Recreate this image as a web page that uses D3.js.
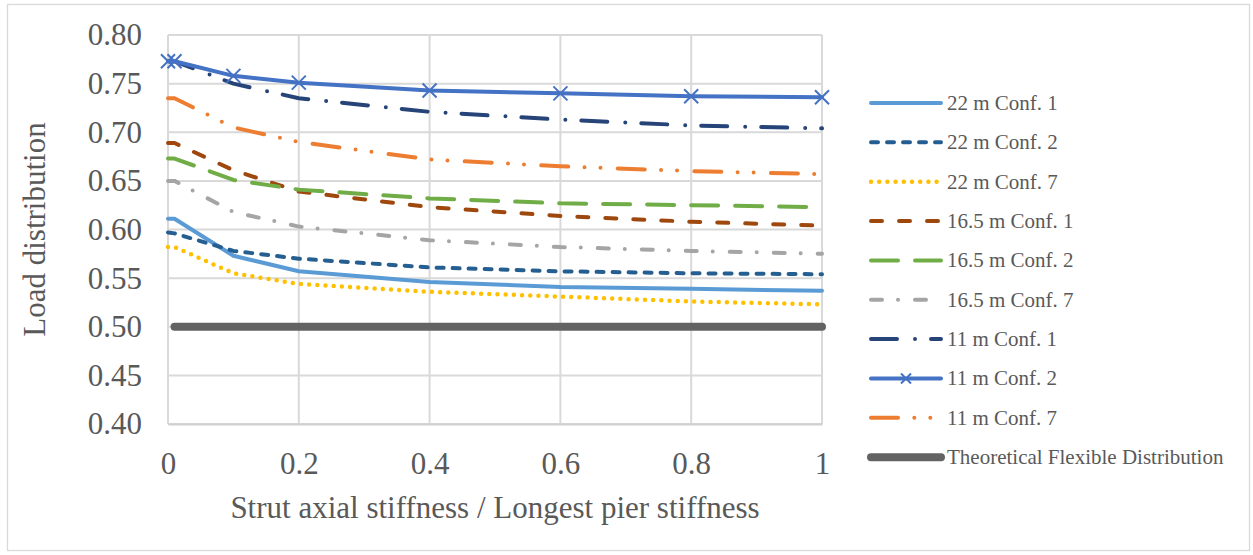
<!DOCTYPE html>
<html>
<head>
<meta charset="utf-8">
<script src="https://cdn.jsdelivr.net/npm/d3@7"></script>
<style>
  html, body { margin: 0; padding: 0; background: #ffffff; }
  svg { display: block; }
  text { font-family: "Liberation Serif", "Times New Roman", serif; }
</style>
</head>
<body>
<svg id="chart" width="1253" height="555"></svg>
<script>
// ---- Data ----
const xValues = [0, 0.01, 0.1, 0.2, 0.4, 0.6, 0.8, 1];
const xTicks = [0, 0.2, 0.4, 0.6, 0.8, 1];
const yTicks = [0.40, 0.45, 0.50, 0.55, 0.60, 0.65, 0.70, 0.75, 0.80];

const seriesNames = [
  "22 m Conf. 1", "22 m Conf. 2", "22 m Conf. 7",
  "16.5 m Conf. 1", "16.5 m Conf. 2", "16.5 m Conf. 7",
  "11 m Conf. 1", "11 m Conf. 2", "11 m Conf. 7",
  "Theoretical Flexible Distribution"
];

const v22c1 = [0.611, 0.611, 0.573, 0.557, 0.546, 0.541, 0.539, 0.537];
const v22c2 = [0.597, 0.596, 0.578, 0.570, 0.561, 0.557, 0.555, 0.554];
const v22c7 = [0.582, 0.582, 0.555, 0.544, 0.536, 0.531, 0.526, 0.523];
const v165c1 = [0.689, 0.689, 0.661, 0.639, 0.623, 0.614, 0.608, 0.604];
const v165c2 = [0.673, 0.673, 0.651, 0.641, 0.632, 0.627, 0.625, 0.623];
const v165c7 = [0.650, 0.650, 0.618, 0.603, 0.589, 0.582, 0.578, 0.575];
const v11c1 = [0.773, 0.773, 0.750, 0.735, 0.721, 0.713, 0.707, 0.704];
const v11c2 = [0.773, 0.773, 0.758, 0.751, 0.743, 0.740, 0.737, 0.736];
const v11c7 = [0.735, 0.735, 0.705, 0.690, 0.672, 0.665, 0.660, 0.657];
const vTheory = [null, 0.5, 0.5, 0.5, 0.5, 0.5, 0.5, 0.5];

const seriesValues = [v22c1, v22c2, v22c7, v165c1, v165c2, v165c7, v11c1, v11c2, v11c7, vTheory];

// ---- Styles ----
const styles = [
  { color: "#5B9BD5", width: 4, dash: null },
  { color: "#255E91", width: 4, dash: "7,9" },
  { color: "#FFC000", width: 4.5, dash: "0,8.2" },
  { color: "#9E480E", width: 4, dash: "11,17" },
  { color: "#70AD47", width: 4, dash: "27,17" },
  { color: "#A5A5A5", width: 4, dash: "11,16,0,17" },
  { color: "#264478", width: 4, dash: "26,18,0,16" },
  { color: "#4472C4", width: 4, dash: null, marker: true },
  { color: "#ED7D31", width: 4, dash: "27,16.3,0,16,0,17.3" },
  { color: "#636363", width: 8, dash: null }
];

const svg = d3.select("#chart");
const W = 1253, H = 555;

// outer border
svg.append("rect")
  .attr("x", 7.5).attr("y", 4.5)
  .attr("width", 1242).attr("height", 546)
  .attr("fill", "#ffffff").attr("stroke", "#d9d9d9").attr("stroke-width", 1.3);

const x = d3.scaleLinear().domain([0, 1]).range([168, 822]);
const y = d3.scaleLinear().domain([0.4, 0.8]).range([424, 35]);

// gridlines
const grid = svg.append("g");
grid.selectAll("line.h").data(yTicks).join("line")
  .attr("x1", x(0)).attr("x2", x(1))
  .attr("y1", d => y(d)).attr("y2", d => y(d))
  .attr("stroke", "#d9d9d9").attr("stroke-width", 2);
grid.selectAll("line.v").data(xTicks).join("line")
  .attr("x1", d => x(d)).attr("x2", d => x(d))
  .attr("y1", y(0.8)).attr("y2", y(0.4))
  .attr("stroke", "#d9d9d9").attr("stroke-width", 2);

// axes
const yAxis = d3.axisLeft(y).tickValues(yTicks).tickFormat(d3.format(".2f")).tickSize(0).tickPadding(26);
const gy = svg.append("g").attr("transform", `translate(${x(0)},0)`).call(yAxis);
gy.select(".domain").remove();
gy.selectAll("text").attr("font-size", 31).attr("fill", "#595959")
  .attr("font-family", "Liberation Serif, Times New Roman, serif");

const xAxis = d3.axisBottom(x).tickValues(xTicks).tickFormat(d3.format("~g")).tickSize(0).tickPadding(28);
const gx = svg.append("g").attr("transform", `translate(0,${y(0.4)})`).call(xAxis);
gx.select(".domain").attr("stroke", "#d0d0d0").attr("stroke-width", 2);
gx.selectAll("text").attr("font-size", 31).attr("fill", "#595959")
  .attr("font-family", "Liberation Serif, Times New Roman, serif");

// axis titles
svg.append("text")
  .attr("x", (x(0) + x(1)) / 2).attr("y", 518)
  .attr("text-anchor", "middle").attr("font-size", 31).attr("fill", "#595959")
  .text("Strut axial stiffness / Longest pier stiffness");

svg.append("text")
  .attr("transform", `translate(45,${(y(0.4) + y(0.8)) / 2}) rotate(-90)`)
  .attr("text-anchor", "middle").attr("font-size", 31).attr("fill", "#595959")
  .text("Load distribution");

// lines
const lineGen = d3.line()
  .defined(d => d[1] !== null)
  .x(d => x(d[0])).y(d => y(d[1]));

const plot = svg.append("g");
// draw theoretical first (bottom), then others
const order = [9, 0, 1, 2, 3, 4, 5, 6, 8, 7];
order.forEach(i => {
  const pts = xValues.map((xv, j) => [xv, seriesValues[i][j]]);
  const st = styles[i];
  plot.append("path")
    .attr("d", lineGen(pts))
    .attr("fill", "none")
    .attr("stroke", st.color)
    .attr("stroke-width", st.width)
    .attr("stroke-linecap", "round")
    .attr("stroke-linejoin", "round")
    .attr("stroke-dasharray", st.dash);
  if (st.marker) {
    plot.selectAll(null).data(pts.filter(d => d[1] !== null)).join("path")
      .attr("transform", d => `translate(${x(d[0])},${y(d[1])})`)
      .attr("d", "M-7,-7L7,7M-7,7L7,-7")
      .attr("fill", "none").attr("stroke", st.color).attr("stroke-width", 2);
  }
});

// legend
const legend = svg.append("g");
const legX1 = 871, legX2 = 941, legY0 = 103, legStep = 39.35;
seriesNames.forEach((name, i) => {
  const st = styles[i];
  const gy0 = legY0 + i * legStep;
  legend.append("line")
    .attr("x1", legX1).attr("x2", legX2)
    .attr("y1", gy0).attr("y2", gy0)
    .attr("stroke", st.color).attr("stroke-width", st.width)
    .attr("stroke-linecap", "round")
    .attr("stroke-dasharray", st.dash);
  if (st.marker) {
    legend.append("path")
      .attr("transform", `translate(${(legX1 + legX2) / 2},${gy0})`)
      .attr("d", "M-5,-5L5,5M-5,5L5,-5")
      .attr("fill", "none").attr("stroke", st.color).attr("stroke-width", 2);
  }
  legend.append("text")
    .attr("x", 947).attr("y", gy0 + 7)
    .attr("font-size", 21).attr("fill", "#595959")
    .text(name);
});
</script>
</body>
</html>
